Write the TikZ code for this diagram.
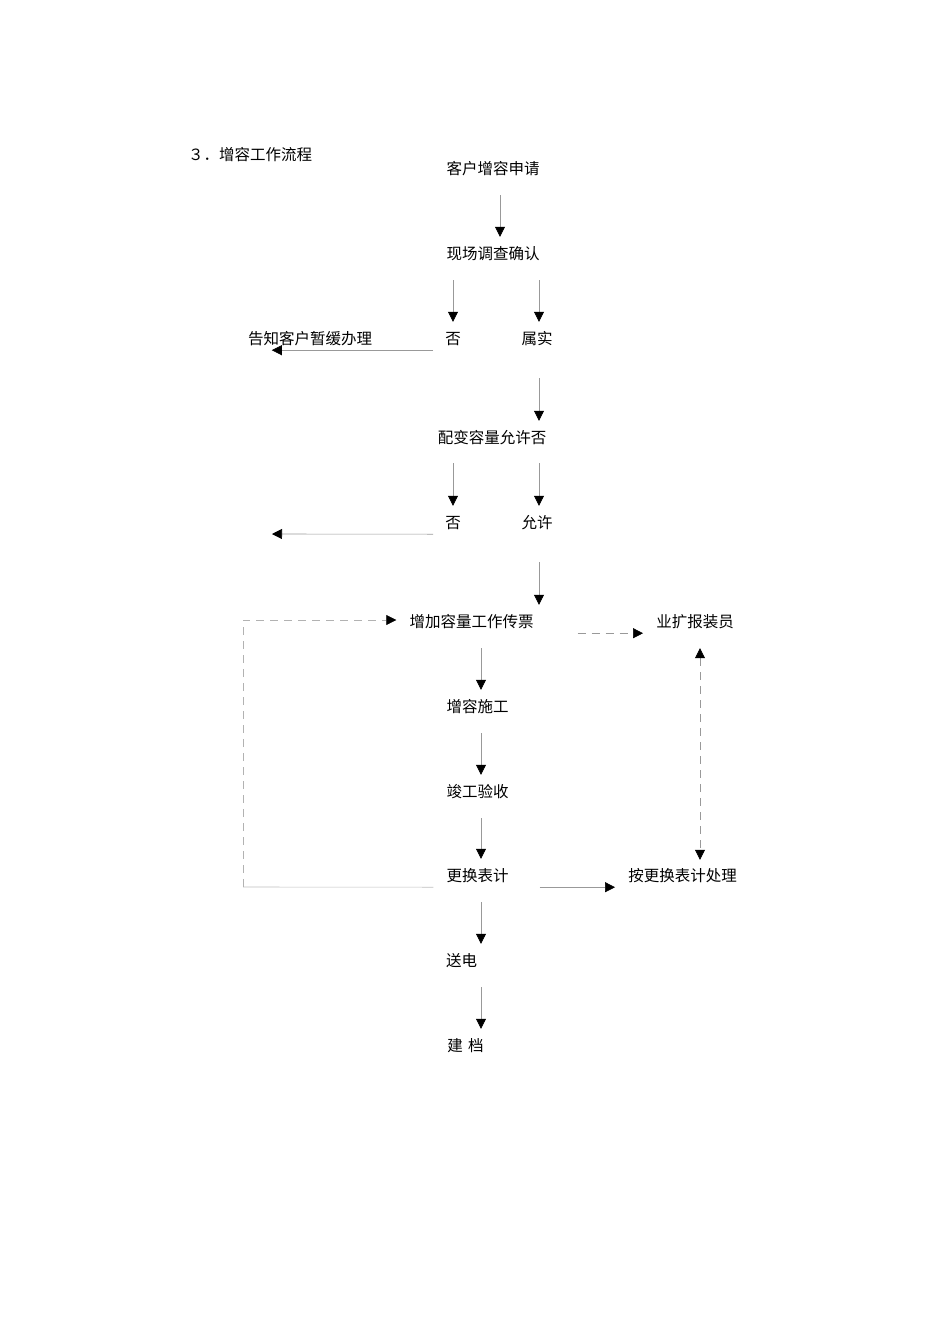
\documentclass[tikz,border=0pt]{standalone}
\usepackage{fontspec}
\newfontfamily\cjk{Noto Sans CJK SC}
\usetikzlibrary{arrows.meta}
\begin{document}
\begin{tikzpicture}[x=1pt,y=-1pt,
    txt/.style={font=\cjk\fontsize{15.5}{18}\selectfont,inner sep=0pt,text height=13pt,text depth=0pt},
    flow/.style={draw=black!40,line width=0.6pt,-{Triangle[length=10pt,width=10pt,color=black]},shorten <=20.5pt,shorten >=9.5pt},
    flowh/.style={draw=black!40,line width=0.6pt,-{Triangle[length=10pt,width=10pt,color=black]}}]
        \useasboundingbox (0,0) rectangle (950,1344);
        \draw (188,154) node[txt,anchor=west](title){３．增容工作流程};
        \draw (493,168) node[txt](apply){客户增容申请};
        \draw (493,253) node[txt](check){现场调查确认};
        \draw (453,338) node[txt](no1){否};
        \draw (537,338) node[txt](true1){属实};
        \draw (310,338) node[txt](notify){告知客户暂缓办理};
        \draw (492,437) node[txt](capq){配变容量允许否};
        \draw (453,522) node[txt](no2){否};
        \draw (537,522) node[txt](ok2){允许};
        \draw (471.5,621) node[txt](add){增加容量工作传票};
        \draw (695,621) node[txt](staff){业扩报装员};
        \draw (477.5,706) node[txt](build){增容施工};
        \draw (477.5,791) node[txt](accept){竣工验收};
        \draw (477.5,875) node[txt](meter){更换表计};
        \draw (682.5,875) node[txt](by){按更换表计处理};
        \draw (461.5,960) node[txt](power){送电};
        \draw (465.5,1045) node[txt](archive){建\,\,档};
        \coordinate (cA) at (500,0);
        \coordinate (cY) at (539,0);
        \coordinate (cM) at (481,0);
        \coordinate (cR) at (700,0);
        \coordinate (hold) at (272,534);
        \coordinate (lp) at (243,887);
        \draw[flow] (apply.south -| cA) -- (check.north -| cA);
        \draw[flow] (check.south -| no1) -- (no1.north);
        \draw[flow] (check.south -| cY) -- (true1.north -| cY);
        \draw[flowh] ([shift={(-12,5.5)}]no1.south west) -- ([shift={(24,5.5)}]notify.south west);
        \draw[flow,shorten <=33.5pt] (true1.south -| cY) -- (capq.north -| cY);
        \draw[flow,shorten <=19.5pt] (capq.south -| no2) -- (no2.north);
        \draw[flow,shorten <=19.5pt] (capq.south -| cY) -- (ok2.north -| cY);
        \draw[flowh] ([shift={(-12,5.5)}]no2.south west) -- (hold);
        \draw[flow,shorten <=33.5pt] (ok2.south -| cY) -- (add.north -| cY);
        \draw[flowh,dash pattern=on 8pt off 6pt] ([shift={(44,5.5)}]add.south east) -- ([shift={(-13,5.5)}]staff.south west);
        \draw[flow] (add.south -| cM) -- (build.north -| cM);
        \draw[flow] (build.south -| cM) -- (accept.north -| cM);
        \draw[flow] (accept.south -| cM) -- (meter.north -| cM);
        \draw[flow] (meter.south -| cM) -- (power.north -| cM);
        \draw[flow] (power.south -| cM) -- (archive.north -| cM);
        \draw[flowh] ([shift={(31,5.5)}]meter.south east) -- ([shift={(-13,5.5)}]by.south west);
        \draw[draw=black!25,line width=0.6pt] ([shift={(-13,5.5)}]meter.south west) -- (lp);
        \draw[flowh,draw=black!30,dash pattern=on 8pt off 6pt] (lp) |- ([shift={(-13,-1)}]add.west);
        \draw[flowh,{Triangle[length=10pt,width=10pt,color=black]}-{Triangle[length=10pt,width=10pt,color=black]},dash pattern=on 8pt off 6pt,shorten <=20.5pt,shorten >=8.5pt] (staff.south -| cR) -- (by.north -| cR);
\end{tikzpicture}
\end{document}
